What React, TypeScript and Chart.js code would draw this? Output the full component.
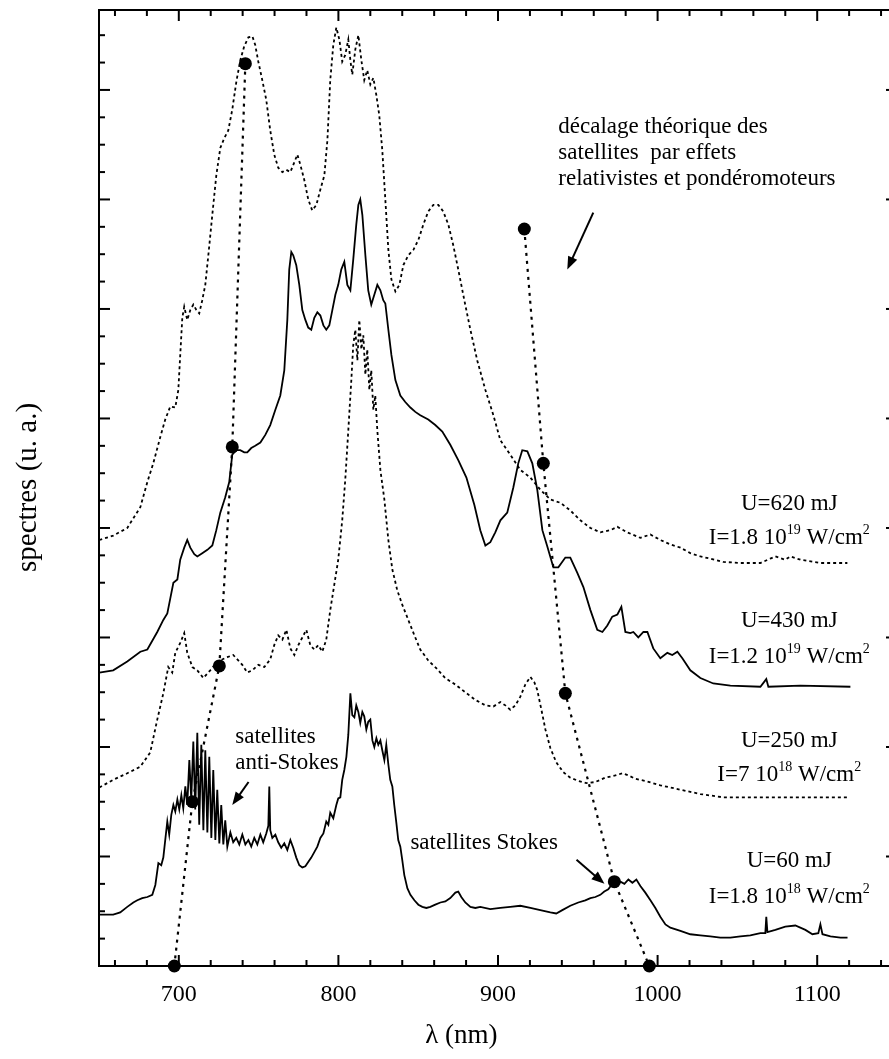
import { useEffect, useRef } from "react";
import { Chart, registerables } from "chart.js";
Chart.register(...registerables);

// ---------- data (wavelength in nm, intensity in arbitrary units) ----------
const wl620 = [650.2, 658.9, 667.7, 675.9, 680.3, 684.0, 688.4, 691.5, 694.7, 697.8, 699.7, 700.9, 702.2, 703.4, 705.3, 707.2, 709.1, 711.0, 712.8, 714.7, 716.6, 718.5, 721.0, 723.5, 726.0, 728.5, 731.0, 733.5, 736.0, 738.5, 741.0, 743.6, 746.1, 747.9, 749.8, 752.3, 754.8, 757.3, 759.8, 762.3, 764.9, 767.4, 769.9, 772.4, 774.3, 776.1, 778.6, 781.1, 783.6, 786.2, 788.7, 791.2, 793.1, 794.9, 796.8, 798.7, 800.6, 802.4, 804.3, 806.2, 807.5, 808.7, 810.6, 812.5, 814.4, 816.2, 818.1, 820.0, 821.9, 823.8, 825.6, 827.5, 829.4, 831.3, 833.2, 835.7, 838.2, 840.7, 843.8, 847.0, 850.1, 853.2, 856.3, 859.5, 862.6, 865.7, 868.9, 872.0, 875.1, 878.9, 882.7, 887.0, 892.1, 897.1, 901.5, 907.7, 914.0, 920.3, 926.5, 932.8, 939.1, 945.3, 951.6, 957.9, 964.1, 970.4, 974.8, 981.0, 989.2, 995.5, 1001.7, 1008.0, 1014.3, 1020.5, 1026.8, 1033.0, 1041.2, 1051.9, 1064.4, 1070.6, 1073.8, 1080.0, 1083.2, 1089.5, 1102.0, 1118.9];
const int620 = [389, 393, 400, 419, 442, 459, 483, 499, 511, 510, 526, 558, 592, 602, 590, 599, 604, 599, 596, 608, 622, 649, 686, 722, 747, 756, 763, 782, 807, 827, 840, 848, 849, 841, 826, 809, 791, 763, 741, 729, 725, 727, 725, 734, 741, 732, 718, 700, 690, 695, 709, 722, 754, 809, 841, 857, 846, 826, 832, 846, 827, 814, 837, 850, 827, 809, 818, 805, 811, 795, 777, 745, 700, 654, 627, 616, 622, 640, 649, 654, 663, 677, 689, 695, 695, 689, 677, 658, 636, 608, 581, 553, 526, 503, 480, 467, 453, 446, 435, 426, 423, 416, 407, 400, 396, 398, 401, 396, 391, 394, 389, 385, 382, 377, 374, 372, 369, 368, 368, 372, 374, 371, 374, 371, 368, 368];

const wl430 = [650.2, 658.9, 667.7, 675.9, 680.3, 686.5, 690.3, 692.8, 694.7, 696.6, 699.1, 700.9, 703.4, 705.3, 707.2, 709.7, 711.6, 714.7, 717.9, 721.0, 723.5, 726.0, 729.1, 731.6, 733.5, 736.0, 738.5, 741.0, 742.9, 745.4, 747.9, 751.1, 754.2, 757.3, 760.5, 763.6, 766.1, 768.0, 769.2, 770.5, 771.7, 773.6, 775.5, 777.4, 779.3, 781.1, 783.0, 784.9, 786.8, 788.7, 790.6, 792.4, 794.3, 796.2, 798.1, 799.9, 801.8, 803.7, 805.6, 807.5, 809.3, 811.2, 812.5, 813.7, 815.0, 816.9, 818.7, 820.6, 822.5, 824.4, 826.3, 828.1, 829.4, 831.3, 833.2, 835.7, 838.8, 841.9, 845.1, 848.2, 851.3, 856.3, 860.7, 865.1, 870.1, 875.1, 880.2, 885.2, 888.9, 892.1, 895.2, 898.3, 901.5, 905.8, 909.6, 912.7, 915.2, 918.4, 921.5, 924.6, 927.8, 930.9, 934.7, 937.8, 942.2, 945.3, 949.7, 953.5, 957.9, 962.2, 965.4, 968.5, 971.6, 974.8, 977.3, 979.8, 982.9, 984.8, 987.9, 991.1, 993.6, 997.3, 1001.7, 1006.1, 1009.2, 1012.4, 1015.5, 1020.5, 1026.8, 1034.9, 1045.6, 1064.4, 1068.1, 1069.4, 1089.5, 1120.8];
const int430 = [268, 270, 278, 287, 289, 305, 316, 322, 336, 350, 353, 371, 382, 389, 382, 376, 374, 377, 380, 384, 398, 414, 428, 442, 467, 471, 471, 469, 469, 473, 475, 478, 485, 494, 508, 521, 544, 590, 636, 652, 649, 640, 622, 599, 590, 583, 581, 592, 597, 594, 585, 581, 585, 599, 613, 622, 636, 643, 622, 617, 645, 677, 695, 700, 686, 649, 617, 604, 613, 622, 617, 608, 605, 581, 558, 535, 521, 515, 510, 506, 503, 499, 494, 488, 476, 462, 446, 421, 398, 384, 387, 396, 407, 414, 437, 459, 471, 470, 459, 435, 398, 383, 364, 364, 373, 373, 359, 346, 325, 307, 305, 311, 319, 321, 328, 305, 304, 305, 300, 305, 305, 290, 281, 286, 284, 287, 281, 270, 263, 258, 256, 255, 262, 255, 256, 255];

const wl250 = [650.2, 658.9, 667.7, 675.9, 682.1, 686.5, 690.3, 693.4, 695.9, 697.8, 700.9, 703.4, 705.3, 708.5, 711.6, 715.4, 719.7, 724.1, 730.4, 734.1, 739.8, 742.9, 746.1, 749.8, 753.6, 757.3, 759.8, 762.3, 764.9, 767.4, 769.9, 772.4, 774.9, 777.4, 779.9, 782.4, 784.9, 787.4, 789.9, 792.4, 794.9, 797.4, 799.9, 802.4, 804.3, 806.2, 808.1, 809.3, 810.6, 811.9, 813.1, 814.4, 815.6, 816.9, 818.1, 819.4, 820.6, 821.9, 823.1, 824.4, 826.3, 828.8, 831.3, 833.8, 836.9, 840.0, 843.8, 847.6, 851.3, 856.3, 861.3, 866.9, 873.3, 879.5, 885.8, 892.1, 897.1, 901.5, 904.6, 907.7, 910.9, 914.0, 917.1, 920.3, 922.8, 924.6, 927.2, 929.7, 932.8, 936.5, 940.9, 945.3, 950.3, 955.4, 961.0, 967.2, 973.5, 977.9, 981.7, 986.0, 992.3, 1001.7, 1014.3, 1026.8, 1041.2, 1064.4, 1089.5, 1118.9];
const int250 = [163, 170, 176, 182, 195, 225, 249, 273, 268, 286, 295, 304, 286, 273, 270, 263, 270, 278, 282, 284, 275, 268, 270, 275, 273, 280, 293, 302, 298, 307, 290, 284, 293, 300, 307, 293, 289, 293, 287, 298, 325, 348, 371, 407, 444, 489, 535, 567, 581, 553, 590, 563, 576, 540, 563, 526, 544, 508, 521, 489, 453, 426, 389, 362, 343, 330, 316, 302, 289, 279, 272, 263, 257, 250, 243, 238, 237, 241, 238, 234, 238, 246, 257, 264, 259, 252, 234, 216, 199, 186, 177, 172, 169, 167, 168, 172, 174, 176, 174, 171, 169, 165, 161, 157, 154, 154, 154, 154];

const wl60 = [650.2, 658.9, 663.3, 667.7, 671.5, 674.0, 677.1, 680.3, 683.4, 685.3, 687.2, 689.0, 690.3, 691.5, 692.8, 694.0, 695.3, 696.6, 697.8, 699.1, 700.3, 701.6, 702.8, 704.1, 705.3, 706.6, 707.8, 709.1, 710.3, 711.6, 712.8, 714.1, 715.4, 716.6, 717.9, 719.1, 720.4, 721.6, 722.9, 724.1, 725.4, 726.6, 727.9, 729.1, 730.4, 732.3, 734.1, 736.0, 737.9, 739.8, 741.7, 743.6, 745.4, 747.3, 749.2, 751.1, 752.9, 754.8, 756.1, 756.7, 757.3, 758.6, 760.5, 762.3, 764.2, 766.1, 768.0, 769.9, 771.7, 773.6, 775.5, 777.4, 779.3, 781.1, 783.0, 784.9, 786.8, 788.7, 790.6, 792.4, 793.7, 794.9, 796.8, 798.7, 799.9, 801.2, 802.4, 803.7, 805.0, 806.2, 807.5, 808.7, 810.0, 811.2, 812.5, 813.7, 815.0, 816.2, 817.5, 818.7, 820.0, 821.3, 822.5, 823.8, 825.0, 826.3, 827.5, 828.8, 830.0, 831.3, 832.5, 833.8, 835.0, 836.3, 837.5, 838.8, 840.0, 841.3, 843.2, 845.1, 847.6, 850.1, 852.6, 855.1, 857.6, 860.7, 863.9, 867.0, 870.1, 873.3, 875.1, 877.0, 879.5, 882.7, 885.8, 888.9, 895.2, 901.5, 907.7, 914.0, 920.3, 926.5, 932.8, 936.5, 940.3, 945.3, 950.3, 954.7, 957.9, 961.0, 964.1, 966.6, 969.1, 971.6, 974.1, 976.7, 979.2, 981.7, 984.2, 986.7, 989.2, 992.3, 995.5, 998.6, 1001.7, 1004.9, 1008.0, 1014.3, 1020.5, 1026.8, 1033.0, 1039.3, 1045.6, 1051.9, 1058.1, 1064.4, 1067.5, 1068.1, 1068.8, 1073.8, 1080.0, 1086.3, 1092.6, 1097.0, 1100.7, 1102.0, 1103.3, 1108.3, 1114.6, 1119.0];
const int60 = [47, 47, 49, 54, 58, 60, 62, 63, 65, 74, 94, 92, 99, 115, 132, 120, 138, 147, 141, 152, 143, 156, 144, 164, 147, 188, 152, 205, 143, 213, 129, 202, 124, 197, 122, 191, 117, 179, 115, 161, 112, 147, 111, 133, 109, 122, 113, 117, 111, 120, 111, 115, 109, 117, 111, 120, 113, 121, 128, 164, 124, 117, 120, 113, 108, 112, 106, 115, 108, 99, 92, 90, 91, 95, 99, 104, 109, 117, 121, 132, 129, 140, 135, 147, 153, 154, 170, 179, 191, 211, 249, 229, 227, 238, 232, 222, 232, 228, 216, 223, 225, 206, 200, 208, 202, 206, 197, 188, 202, 184, 170, 164, 147, 131, 115, 109, 97, 83, 71, 65, 60, 56, 54, 53, 54, 56, 58, 59, 62, 67, 68, 63, 58, 54, 53, 54, 52, 53, 54, 55, 53, 51, 49, 48, 51, 55, 58, 60, 62, 63, 65, 68, 70, 75, 73, 77, 75, 79, 76, 79, 73, 67, 60, 53, 45, 38, 35, 32, 29, 28, 27, 26, 26, 27, 28, 30, 30, 45, 31, 33, 36, 37, 33, 29, 30, 38, 29, 27, 26, 26];

// theoretical satellite shift (dots joined by dotted lines)
const theoLeftWl = [741.7, 733.5, 725.4, 708.5, 697.2];
const theoLeftInt = [824, 474, 274, 150, 0];
const theoRightWl = [916.5, 928.4, 942.2, 972.9, 994.8];
const theoRightInt = [673, 459, 249, 77, 0];

// axis tick labels
const xTickLabels = [700, 800, 900, 1000, 1100];

// curve labels
const energyLabels = ["U=620 mJ", "U=430 mJ", "U=250 mJ", "U=60 mJ"];
const intensityMantissa = ["1.8", "1.2", "7", "1.8"];
const intensityExponent = ["19", "19", "18", "18"];

const SERIF = '"Liberation Serif", "Times New Roman", serif';

function pts(xs: number[], ys: number[]) {
  return xs.map((v, i) => ({ x: v, y: ys[i] }));
}

const decorPlugin = {
  id: "decor",
  beforeDatasetsDraw(chart: any) {
    const { ctx, chartArea: a, scales } = chart;
    const x = scales.x, y = scales.y;
    ctx.save();
    ctx.strokeStyle = "#000";
    ctx.lineWidth = 2;
    ctx.beginPath();
    ctx.rect(a.left, a.top, a.right - a.left, a.bottom - a.top);
    ctx.stroke();
    const seg = (x1: number, y1: number, x2: number, y2: number) => {
      ctx.beginPath();
      ctx.moveTo(x1, y1);
      ctx.lineTo(x2, y2);
      ctx.stroke();
    };
    for (let v = 660; v <= 1140; v += 20) {
      const px = x.getPixelForValue(v);
      const len = v % 100 === 0 ? 11 : 6;
      seg(px, a.bottom, px, a.bottom - len);
      seg(px, a.top, px, a.top + len);
    }
    for (let v = 25; v < 873; v += 25) {
      const py = y.getPixelForValue(v);
      const major = v % 100 === 0;
      seg(a.left, py, a.left + (major ? 11 : 6), py);
      seg(a.right, py, a.right - (major ? 11 : 6), py);
    }
    ctx.restore();
  },
  afterDraw(chart: any) {
    const { ctx, scales } = chart;
    const x = scales.x, y = scales.y;
    const X = (v: number) => x.getPixelForValue(v);
    const Y = (v: number) => y.getPixelForValue(v);
    ctx.save();
    ctx.fillStyle = "#000";
    ctx.strokeStyle = "#000";
    ctx.textBaseline = "alphabetic";

    // axis titles
    ctx.font = `27px ${SERIF}`;
    ctx.textAlign = "center";
    ctx.fillText("λ (nm)", X(877), 1043);
    ctx.save();
    ctx.translate(36, Y(437));
    ctx.rotate(-Math.PI / 2);
    ctx.font = `29px ${SERIF}`;
    ctx.fillText("spectres (u. a.)", 0, 0);
    ctx.restore();

    // annotations
    const big = `23px ${SERIF}`;
    const small = `14px ${SERIF}`;
    ctx.font = big;
    ctx.textAlign = "left";
    ctx.fillText("décalage théorique des", X(937.8), Y(761));
    ctx.fillText("satellites  par effets", X(937.8), Y(737));
    ctx.fillText("relativistes et pondéromoteurs", X(937.8), Y(713));
    ctx.fillText("satellites", X(735.4), Y(204));
    ctx.fillText("anti-Stokes", X(735.4), Y(180));
    ctx.fillText("satellites Stokes", X(845.1), Y(107));

    const arrow = (x1: number, y1: number, x2: number, y2: number) => {
      const p1x = X(x1), p1y = Y(y1), p2x = X(x2), p2y = Y(y2);
      const ang = Math.atan2(p2y - p1y, p2x - p1x);
      ctx.lineWidth = 2;
      ctx.beginPath();
      ctx.moveTo(p1x, p1y);
      ctx.lineTo(p2x - 6 * Math.cos(ang), p2y - 6 * Math.sin(ang));
      ctx.stroke();
      const L = 13, W = 5;
      ctx.beginPath();
      ctx.moveTo(p2x, p2y);
      ctx.lineTo(p2x - L * Math.cos(ang) + W * Math.sin(ang), p2y - L * Math.sin(ang) - W * Math.cos(ang));
      ctx.lineTo(p2x - L * Math.cos(ang) - W * Math.sin(ang), p2y - L * Math.sin(ang) + W * Math.cos(ang));
      ctx.closePath();
      ctx.fill();
    };
    arrow(959.7, 688, 943.4, 636);
    arrow(743.7, 168, 733.5, 147);
    arrow(949.2, 97, 966.7, 75);

    // right-hand labels
    const uBase = [416.5, 309.6, 200, 90.4];
    const iBase = [385.4, 276.7, 169, 57.5];
    const cx = X(1082.5);
    for (let k = 0; k < energyLabels.length; k++) {
      ctx.font = big;
      ctx.textAlign = "center";
      ctx.fillText(energyLabels[k], cx, Y(uBase[k]));
      const parts = [
        { t: `I=${intensityMantissa[k]} 10`, sup: false },
        { t: intensityExponent[k], sup: true },
        { t: " W/cm", sup: false },
        { t: "2", sup: true },
      ];
      let w = 0;
      for (const p of parts) {
        ctx.font = p.sup ? small : big;
        w += ctx.measureText(p.t).width;
      }
      let xx = cx - w / 2;
      ctx.textAlign = "left";
      const base = Y(iBase[k]);
      for (const p of parts) {
        ctx.font = p.sup ? small : big;
        ctx.fillText(p.t, xx, p.sup ? base - 10 : base);
        xx += ctx.measureText(p.t).width;
      }
    }
    ctx.restore();
  },
};

export default function App() {
  const ref = useRef<HTMLCanvasElement | null>(null);
  useEffect(() => {
    if (!ref.current) return;
    const dotted = { borderDash: [3, 3], borderWidth: 1.8 };
    const solid = { borderWidth: 1.8 };
    const base = {
      borderColor: "#000",
      backgroundColor: "#000",
      pointRadius: 0,
      fill: false,
      tension: 0,
    };
    const theo = {
      ...base,
      borderDash: [3, 5],
      borderWidth: 2.2,
      pointRadius: 6.5,
      pointBorderWidth: 0,
      pointBackgroundColor: "#000",
      clip: false as any,
    };
    const chart = new Chart(ref.current, {
      type: "line",
      data: {
        datasets: [
          { ...theo, label: "théorie anti-Stokes", data: pts(theoLeftWl, theoLeftInt) },
          { ...theo, label: "théorie Stokes", data: pts(theoRightWl, theoRightInt) },
          { ...base, ...dotted, label: "U=620 mJ", data: pts(wl620, int620) },
          { ...base, ...solid, label: "U=430 mJ", data: pts(wl430, int430) },
          { ...base, ...dotted, label: "U=250 mJ", data: pts(wl250, int250) },
          { ...base, ...solid, label: "U=60 mJ", data: pts(wl60, int60) },
        ] as any,
      },
      options: {
        animation: false,
        responsive: false,
        devicePixelRatio: 1,
        parsing: false as any,
        layout: { padding: { left: 99, top: 10, right: 8, bottom: 0 } },
        plugins: { legend: { display: false }, tooltip: { enabled: false } },
        events: [],
        scales: {
          x: {
            type: "linear",
            min: 650,
            max: 1150,
            grid: { display: false, drawTicks: false },
            border: { display: false },
            afterBuildTicks: (s: any) => {
              s.ticks = xTickLabels.map((v) => ({ value: v }));
            },
            afterFit: (s: any) => {
              s.height = 93;
            },
            ticks: {
              color: "#000",
              padding: 14,
              maxRotation: 0,
              autoSkip: false,
              font: { family: SERIF, size: 24 },
              callback: (v: any) => String(v),
            },
          },
          y: {
            type: "linear",
            display: false,
            min: 0,
            max: 873,
          },
        },
      },
      plugins: [decorPlugin],
    });
    return () => chart.destroy();
  }, []);
  return (
    <div
      style={{
        position: "fixed",
        left: 0,
        top: 0,
        width: 889,
        height: 1059,
        overflow: "hidden",
        background: "#fff",
      }}
    >
      <canvas ref={ref} width={905} height={1059} style={{ display: "block", width: 905, height: 1059 }} />
    </div>
  );
}
